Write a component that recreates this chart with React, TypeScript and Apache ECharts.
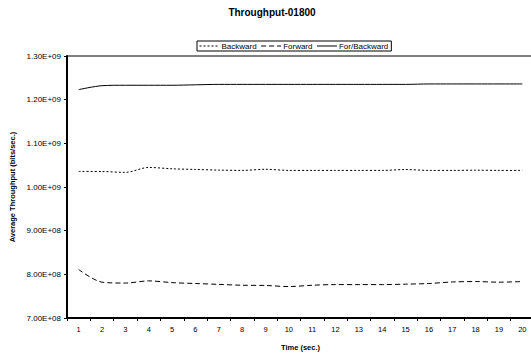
import React, { useEffect, useRef } from "react";
import * as echarts from "echarts";

const categories = ["1","2","3","4","5","6","7","8","9","10","11","12","13","14","15","16","17","18","19","20"];
const backward = [1.0357e9,1.0355e9,1.0335e9,1.0448e9,1.0417e9,1.0402e9,1.0387e9,1.038e9,1.0406e9,1.038e9,1.038e9,1.038e9,1.038e9,1.038e9,1.040e9,1.038e9,1.038e9,1.0385e9,1.038e9,1.038e9];
const forward = [8.11e8,7.82e8,7.80e8,7.85e8,7.81e8,7.79e8,7.77e8,7.75e8,7.745e8,7.72e8,7.75e8,7.765e8,7.765e8,7.765e8,7.775e8,7.79e8,7.825e8,7.835e8,7.82e8,7.835e8];
const forBackward = [1.223e9,1.232e9,1.233e9,1.233e9,1.233e9,1.234e9,1.235e9,1.235e9,1.235e9,1.235e9,1.235e9,1.235e9,1.235e9,1.235e9,1.235e9,1.236e9,1.236e9,1.236e9,1.236e9,1.236e9];

const FONT = "'Liberation Sans', Arial, sans-serif";

function sci(v: number): string {
  if (v === 0) return "0.00E+00";
  const e = Math.floor(Math.log10(v) + 1e-9);
  const m = v / Math.pow(10, e);
  return m.toFixed(2) + "E+" + (e < 10 ? "0" + e : String(e));
}

export default function App() {
  const ref = useRef<HTMLDivElement>(null);
  useEffect(() => {
    document.body.style.margin = "0";
    const chart = echarts.init(ref.current!, null, { renderer: "svg" });
    const lineCommon = {
      type: "line" as const,
      smooth: 0.3,
      symbol: "none",
      showSymbol: false,
    };
    chart.setOption({
      animation: false,
      backgroundColor: "#ffffff",
      textStyle: { fontFamily: FONT },
      title: {
        text: "Throughput-01800",
        left: 267,
        textAlign: "center",
        top: 2,
        textStyle: { fontSize: 10, fontWeight: "bold", color: "#000", fontFamily: FONT },
      },
      legend: {
        top: 41,
        left: 197,
        itemWidth: 20,
        itemHeight: 8,
        itemGap: 4,
        padding: [1, 3, 1, 2],
        borderColor: "#000",
        borderWidth: 1,
        backgroundColor: "#fff",
        itemStyle: { color: "transparent", borderColor: "transparent", borderWidth: 0 },
        lineStyle: { width: 1 },
        textStyle: { fontSize: 8, color: "#000", fontFamily: FONT, padding: [0, 0, 0, -3] },
        data: ["Backward", "Forward", "For/Backward"],
      },
      grid: {
        left: 64,
        top: 56,
        width: 470,
        height: 267,
        show: true,
        borderColor: "#000",
        borderWidth: 1,
      },
      xAxis: {
        type: "category",
        data: categories,
        boundaryGap: true,
        name: "Time (sec.)",
        nameLocation: "middle",
        nameGap: 25,
        nameMoveOverlap: false,
        nameTextStyle: { fontSize: 7.5, fontWeight: "bold", color: "#000", fontFamily: FONT },
        axisLine: { lineStyle: { color: "#000", width: 2 } },
        axisTick: { show: true, length: 3, lineStyle: { color: "#000" } },
        axisLabel: { fontSize: 7.5, color: "#000", margin: 7, fontFamily: FONT },
        splitLine: { show: false },
      },
      yAxis: {
        type: "value",
        min: 7e8,
        max: 1.3e9,
        interval: 1e8,
        name: "Average Throughput (bits/sec.)",
        nameLocation: "middle",
        nameGap: 51,
        nameRotate: 90,
        nameMoveOverlap: false,
        nameTextStyle: { fontSize: 7.5, fontWeight: "bold", color: "#000", fontFamily: FONT },
        axisLine: { show: true, lineStyle: { color: "#000", width: 2 } },
        axisTick: { show: true, length: 3, lineStyle: { color: "#000" } },
        axisLabel: { fontSize: 8, color: "#000", margin: 6, formatter: (v: number) => sci(v), fontFamily: FONT },
        splitLine: { show: false },
      },
      series: [
        {
          ...lineCommon,
          name: "Backward",
          data: backward,
          lineStyle: { color: "#000", width: 1, type: [2, 2] },
          itemStyle: { color: "#000" },
        },
        {
          ...lineCommon,
          name: "Forward",
          data: forward,
          lineStyle: { color: "#000", width: 1, type: [5, 3] },
          itemStyle: { color: "#000" },
        },
        {
          ...lineCommon,
          name: "For/Backward",
          data: forBackward,
          lineStyle: { color: "#000", width: 1, type: "solid" },
          itemStyle: { color: "#000" },
        },
      ],
    });
    return () => chart.dispose();
  }, []);
  return (
    <div style={{ width: 531, height: 356, overflow: "hidden" }}>
      <div ref={ref} style={{ width: 540, height: 356 }} />
    </div>
  );
}
